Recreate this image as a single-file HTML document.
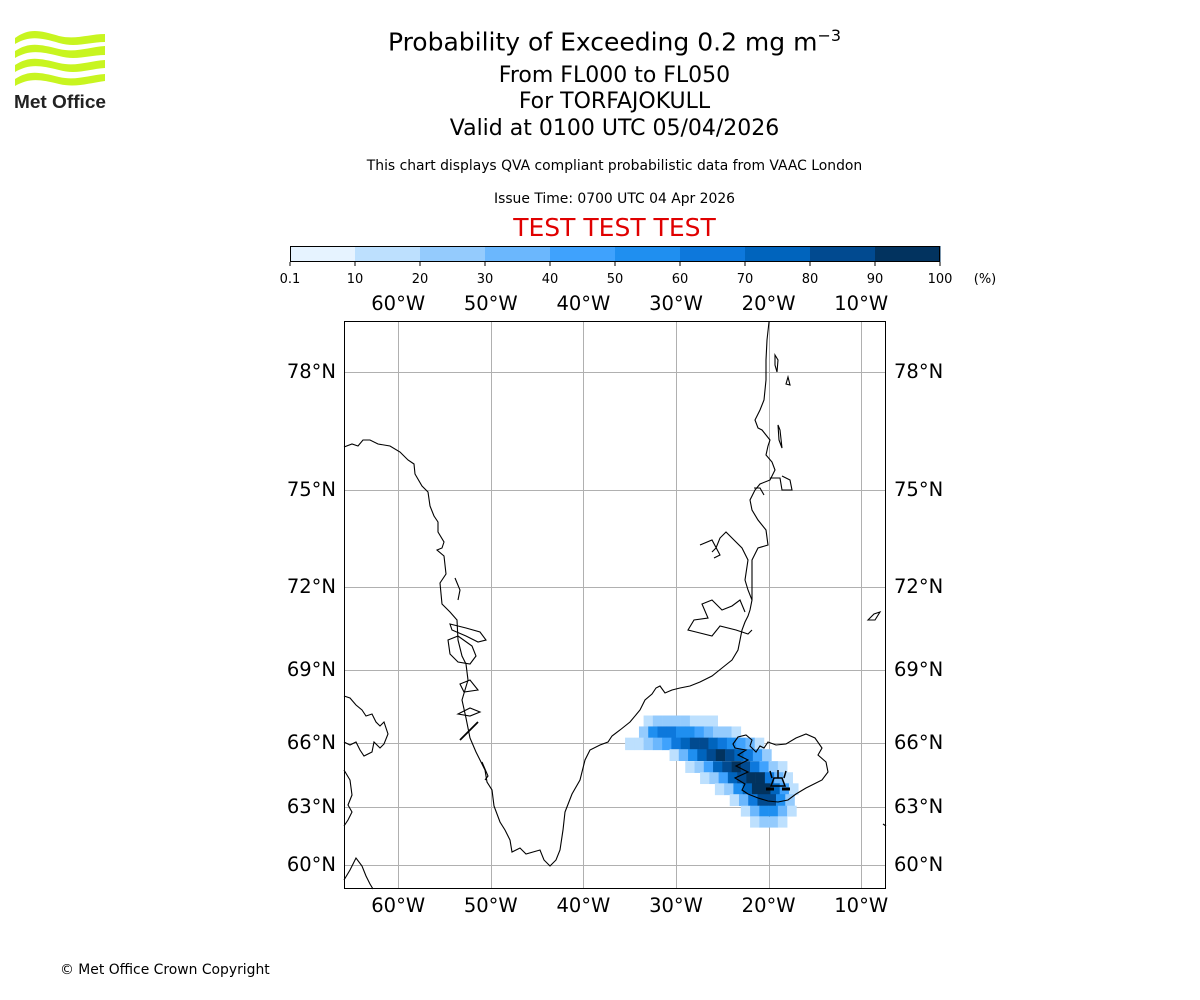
<!DOCTYPE html>
<html><head><meta charset="utf-8">
<style>
html,body{margin:0;padding:0;background:#fff;}
body{width:1200px;height:1000px;position:relative;overflow:hidden;font-family:"DejaVu Sans","Liberation Sans",sans-serif;}
.t{position:absolute;left:0;width:1229px;text-align:center;color:#000;white-space:nowrap;}
</style></head><body>
<div style="position:absolute;left:14px;top:30px;width:95px;height:82px;">
<svg width="95" height="82" viewBox="0 0 95 82">
<g fill="#c8f520">
<path d="M1,8 C15,-2 25,0 45,6 C62,10 75,4 91,4 L91,12 C75,12 62,18 45,13 C25,7 15,6 1,14Z"/>
<path d="M1,21 C15,12 25,14 45,19 C62,23 75,17 91,16 L91,25 C75,25 62,31 45,26 C25,21 15,20 1,28Z"/>
<path d="M1,35 C15,26 25,28 45,33 C62,37 75,31 91,30 L91,38 C75,39 62,45 45,40 C25,35 15,34 1,42Z"/>
<path d="M1,49 C15,40 25,42 45,47 C62,51 75,45 91,44 L91,51 C75,53 62,58 45,54 C25,49 15,48 1,56Z"/>
</g>
<text x="0" y="78" font-family="Liberation Sans, sans-serif" font-weight="bold" font-size="18" fill="#222" textLength="92" lengthAdjust="spacingAndGlyphs">Met Office</text>
</svg></div>

<div class="t" style="top:26px;font-size:25px;">Probability of Exceeding 0.2 mg m<sup style="font-size:16px;">−3</sup></div>
<div class="t" style="top:63px;font-size:22px;">From FL000 to FL050</div>
<div class="t" style="top:89px;font-size:22px;">For TORFAJOKULL</div>
<div class="t" style="top:116px;font-size:22px;">Valid at 0100 UTC 05/04/2026</div>
<div class="t" style="top:158px;font-size:13.9px;">This chart displays QVA compliant probabilistic data from VAAC London</div>
<div class="t" style="top:191px;font-size:13.9px;">Issue Time: 0700 UTC 04 Apr 2026</div>
<div class="t" style="top:213px;font-size:25px;color:#e00000;">TEST TEST TEST</div>
<div style="position:absolute;left:60px;top:962px;font-size:13.9px;">© Met Office Crown Copyright</div>

<svg id="chart" width="1200" height="1000" style="position:absolute;left:0;top:0;" font-family="DejaVu Sans, Liberation Sans, sans-serif">
<g id="cbar"></g>
<g id="grid"></g>
<g id="plume"></g>
<g id="coast" fill="none" stroke="#000" stroke-width="1.1">
<path d="M344,447 L352,444 L358,446 L363,440 L370,440 L378,444 L390,446 L400,452 L408,460 L414,464 L415,474 L422,486 L428,492 L430,506 L434,516 L438,522 L438,532 L444,542 L442,548 L437,550 L444,556 L446,574 L440,583 L442,604 L450,612 L457,620 L458,640 L462,656 L466,664 L468,680 L462,700 L466,718 L470,738 L476,752 L481,762 L485,770 L487,782 L492,790 L494,806 L500,822 L505,830 L510,840 L512,852 L520,848 L526,854 L540,850 L544,860 L550,866 L556,860 L560,850 L563,830 L565,812 L572,794 L580,780 L585,760 L590,750 L600,745 L608,742 L612,736 L620,730 L630,722 L640,710 L645,700 L652,694 L656,688 L660,686 L665,693 L672,690 L680,688 L690,686 L700,682 L712,676 L722,668 L732,660 L738,650 L740,640 L742,630 L745,622 L748,616 L750,610 L752,600 L748,590 L745,580 L748,560 L742,548 L734,540 L726,532 L720,538 L716,548 L712,552"/>
<path d="M745,612 L740,600 L732,606 L722,610 L712,600 L702,604 L708,618 L694,620 L688,630 L696,632 L712,636 L720,626 L736,630 L748,634 L752,630"/>
<path d="M752,600 L752,580 L752,560 L758,548 L768,545 L766,530 L758,520 L752,510 L750,500 L755,490 L760,484 L770,480 L775,470 L772,462 L766,455 L768,446 L770,440 L762,430 L758,428 L755,420 L760,410 L764,400 L766,380 L766,360 L767,340 L769,322"/>
<path d="M770,478 L780,478 L782,490 L792,490 L790,480 L782,476"/>
<path d="M754,488 L760,488 L764,495"/>
<path d="M775,355 L778,360 L777,372 L775,365Z"/>
<path d="M788,377 L790,385 L786,384Z"/>
<path d="M778,425 L780,430 L782,448 L779,440Z"/>
<path d="M700,545 L712,540 L720,555 L714,558"/>
<path d="M344,696 L350,698 L356,705 L362,710 L366,716 L372,714 L376,722 L380,726 L384,722 L388,734 L384,744 L380,748 L374,742 L372,752 L364,756 L360,750 L356,742 L350,745 L344,742"/>
<path d="M344,770 L350,780 L352,795 L348,805 L352,812 L348,820 L344,826"/>
<path d="M344,880 L350,870 L356,858 L362,866 L366,876 L370,884 L373,889"/>
<path d="M455,578 L460,590 L458,600"/>
<path d="M450,624 L466,628 L480,632 L486,640 L478,642 L466,636 L452,630Z"/>
<path d="M448,640 L458,636 L472,646 L476,656 L470,664 L458,662 L450,654Z"/>
<path d="M460,684 L470,680 L478,690 L464,692Z"/>
<path d="M458,714 L470,708 L480,712 L470,716Z"/>
<path d="M460,740 L478,722" stroke-width="1.8"/>
<path d="M482,762 L488,776 L485,780"/>
<path d="M868,620 L874,614 L880,612 L875,620Z"/>
<path d="M883,824 L886,826"/>
<path d="M733,744 L738,737 L746,735 L752,740 L750,746 L756,752 L760,746 L764,748 L768,742 L776,745 L786,744 L796,738 L806,734 L815,738 L822,748 L818,755 L826,762 L828,772 L822,780 L814,784 L806,788 L796,794 L788,800 L778,802 L768,801 L758,798 L748,794 L742,790 L745,784 L735,778 L748,772 L736,766 L748,760 L738,755 L746,750 L735,748Z"/>
</g>
<g id="volcano" stroke="#000" stroke-width="1.5" fill="none">
<path d="M771,786 L774,778 L782,778 L785,786 Z"/>
<path d="M772,778 L770,771 M778,778 L778,770 M784,778 L786,771"/>
<path d="M766,789 L774,789 M782,789 L790,789" stroke-width="3"/>
</g>
<rect x="344.5" y="321.5" width="541" height="567" fill="none" stroke="#000" stroke-width="1"/>
<g id="labels" font-size="19.5"></g>
</svg>

<script>
const lonTicks = [-60, -50, -40, -30, -20, -10];
const lonTickLabels = ['60°W','50°W','40°W','30°W','20°W','10°W'];
const latTicks = [60, 63, 66, 69, 72, 75, 78];
const latTickLabels = ['60°N','63°N','66°N','69°N','72°N','75°N','78°N'];
const cbarBounds = [0.1,10,20,30,40,50,60,70,80,90,100];
const cbarLabels = ['0.1','10','20','30','40','50','60','70','80','90','100'];
const cbarColors = ['#e6f3ff','#bde0fe','#94cbfd','#6bb7fd','#3fa2fd','#1f8ff0','#0d78dc','#0064bd','#014a90','#02335f'];
// plume rows: latitude of row centre, starting longitude (west edge), probability values per 1° lon
const plumeLats = [66.86, 66.41, 65.95, 65.44, 64.88, 64.36, 63.84, 63.33, 62.79, 62.22];
const plumeLonStart = [-33.5, -34, -35.5, -30.7, -29, -27.4, -25.8, -24.2, -23, -22];
const plumeValues = [
 [10,20,20,20,20,10,10,10],
 [20,50,60,60,50,50,40,30,20,20,10],
 [10,10,20,30,40,60,70,80,80,70,60,50,40,30,10],
 [10,30,50,70,80,90,80,70,60,40,20],
 [10,20,40,70,80,90,80,60,40,20,10],
 [10,20,40,70,80,90,90,60,30,10],
 [10,20,50,70,90,90,70,40,10],
 [10,30,60,80,80,50,20],
 [10,30,50,50,30,10],
 [10,20,20,10]
];
const NS='http://www.w3.org/2000/svg';
const X0=344, X1=886, Y0=321, Y1=889;
function xOf(lon){ return 676 + (lon + 30) * 9.26; }
const calLat=[57,60,63,66,69,72,75,78,81], calY=[920,865,807,743,670,587,490,372,230];
function yOf(lat){
  for(let i=0;i<calLat.length-1;i++){
    if(lat<=calLat[i+1]||i===calLat.length-2){
      const t=(lat-calLat[i])/(calLat[i+1]-calLat[i]);
      return calY[i]+t*(calY[i+1]-calY[i]);
    }
  }
}
function colorOf(v){
  for(let i=0;i<cbarColors.length;i++){ if(v<cbarBounds[i+1]) return cbarColors[i]; }
  return cbarColors[cbarColors.length-1];
}
function mk(tag,attrs,parent){const e=document.createElementNS(NS,tag);for(const k in attrs)e.setAttribute(k,attrs[k]);parent.appendChild(e);return e;}
const cb=document.getElementById('cbar');
const cbX0=290, cbX1=940, cbY=246, cbH=16;
function cbx(i){ return cbX0 + i*(cbX1-cbX0)/(cbarBounds.length-1); }
cbarColors.forEach((c,i)=>{
  const r=mk('rect',{x:cbx(i),y:cbY,width:cbx(i+1)-cbx(i)+0.5,height:cbH,fill:c},cb);
  
  
});
mk('rect',{x:cbX0+0.5,y:cbY+0.5,width:cbX1-cbX0-1,height:cbH-1,fill:'none',stroke:'#000','stroke-width':1},cb);
cbarLabels.forEach((l,i)=>{
  mk('line',{x1:cbx(i),x2:cbx(i),y1:cbY+cbH,y2:cbY+cbH+4,stroke:'#000'},cb);
  const t=mk('text',{x:cbx(i),y:283,'font-size':13,'text-anchor':'middle'},cb);
  t.textContent=l;
  
  
});
const pu=mk('text',{x:985,y:283,'font-size':13,'text-anchor':'middle'},cb);pu.textContent='(%)';


const g=document.getElementById('grid');
lonTicks.forEach(l=>{const x=Math.round(xOf(l))+0.5;mk('line',{x1:x,x2:x,y1:Y0,y2:Y1,stroke:'#b0b0b0','stroke-width':1},g);});
latTicks.forEach(l=>{const y=Math.round(yOf(l))+0.5;mk('line',{x1:X0,x2:X1,y1:y,y2:y,stroke:'#b0b0b0','stroke-width':1},g);});
const p=document.getElementById('plume');
plumeValues.forEach((row,ri)=>{
  const lat=plumeLats[ri];
  const yt=yOf(lat+0.27), yb=yOf(lat-0.27);
  row.forEach((v,ci)=>{
    const lon=plumeLonStart[ri]+ci;
    const xl=xOf(lon), xr=xOf(lon+1);
    const r=mk('rect',{x:xl,y:yt,width:xr-xl+0.3,height:yb-yt+0.3,fill:colorOf(v)},p);
    
    
  });
});
const lb=document.getElementById('labels');
lonTicks.forEach((l,i)=>{
  [310,912].forEach(y=>{
    const t=mk('text',{x:xOf(l),y:y,'text-anchor':'middle'},lb);t.textContent=lonTickLabels[i];
    
    
  });
});
latTicks.forEach((l,i)=>{
  const y=yOf(l)+6;
  const a=mk('text',{x:336,y:y,'text-anchor':'end'},lb);a.textContent=latTickLabels[i];
  
  
  const b=mk('text',{x:894,y:y,'text-anchor':'start'},lb);b.textContent=latTickLabels[i];
  
  
});
</script>
</body></html>
